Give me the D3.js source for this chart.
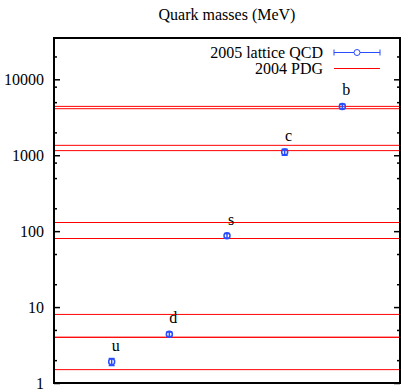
<!DOCTYPE html>
<html>
<head>
<meta charset="utf-8">
<script src="https://cdn.jsdelivr.net/npm/d3@7"></script>
<style>
  body { margin: 0; background: #fff; }
  svg text { font-family: "Liberation Serif", "Times New Roman", serif; fill: #000; }
</style>
</head>
<body>
<div class="canvas"></div>
<script>
const WIDTH = 414;
const HEIGHT = 392;
const margin = { top: 38, right: 14, bottom: 9, left: 54 };
const graphWidth = WIDTH - margin.left - margin.right;
const graphHeight = HEIGHT - margin.top - margin.bottom;
const fontSize = 16;

// data
const quarks = ['u', 'd', 's', 'c', 'b'];
const latticeMass = [1.9, 4.4, 87, 1100, 4400];
const latticeErr = [0.2, 0.3, 6, 100, 300];
const pdgLow = [1.5, 4, 80, 1150, 4100];
const pdgHigh = [4, 8, 130, 1350, 4400];
const yTicks = [1, 10, 100, 1000, 10000];
const yMinorTicks = [2, 5, 20, 50, 200, 500, 800, 2000, 5000, 8000, 20000];

// colors
const blue = '#2a4dff';
const red = '#ff0000';

const svg = d3.select('.canvas')
  .append('svg')
    .attr('width', WIDTH)
    .attr('height', HEIGHT);

svg.append('text')
  .attr('x', margin.left + graphWidth / 2)
  .attr('y', 20)
  .attr('text-anchor', 'middle')
  .attr('font-size', fontSize)
  .text('Quark masses (MeV)');

const graph = svg.append('g')
  .attr('transform', `translate(${margin.left}, ${margin.top})`);

// scales
const x = d3.scaleLinear()
  .domain([0, quarks.length + 1])
  .range([0, graphWidth]);

const y = d3.scaleLog()
  .domain([1, 35000])
  .range([graphHeight, 0]);

// PDG ranges
const pdgLines = pdgLow.concat(pdgHigh);
graph.selectAll('line.pdg')
  .data(pdgLines)
  .enter().append('line')
    .attr('class', 'pdg')
    .attr('x1', 0)
    .attr('x2', graphWidth)
    .attr('y1', d => y(d))
    .attr('y2', d => y(d))
    .attr('stroke', red)
    .attr('stroke-width', 1);

// axes
const yAxisLeft = d3.axisLeft(y)
  .tickValues(yTicks)
  .tickSize(-6)
  .tickPadding(10)
  .tickFormat(d3.format('d'));

const yAxisLeftMinor = d3.axisLeft(y)
  .tickValues(yMinorTicks)
  .tickSize(-3)
  .tickFormat('');

const yAxisRight = d3.axisRight(y)
  .tickValues(yTicks)
  .tickSize(-6)
  .tickFormat('');

const yAxisRightMinor = d3.axisRight(y)
  .tickValues(yMinorTicks)
  .tickSize(-3)
  .tickFormat('');

const leftGroup = graph.append('g').call(yAxisLeft);
graph.append('g').call(yAxisLeftMinor);
graph.append('g').attr('transform', `translate(${graphWidth}, 0)`).call(yAxisRight);
graph.append('g').attr('transform', `translate(${graphWidth}, 0)`).call(yAxisRightMinor);

graph.selectAll('.domain').remove();
graph.selectAll('.tick line').attr('stroke', '#000').attr('stroke-width', 1.5);
leftGroup.selectAll('text')
  .attr('font-size', fontSize)
  .attr('font-family', '"Liberation Serif", serif');

// frame
graph.append('rect')
  .attr('width', graphWidth)
  .attr('height', graphHeight)
  .attr('fill', 'none')
  .attr('stroke', '#000')
  .attr('stroke-width', 2);

// lattice points with error bars
const points = graph.selectAll('g.point')
  .data(quarks)
  .enter().append('g')
    .attr('class', 'point');

points.append('line')
  .attr('x1', (d, i) => x(i + 1))
  .attr('x2', (d, i) => x(i + 1))
  .attr('y1', (d, i) => y(latticeMass[i] - latticeErr[i]))
  .attr('y2', (d, i) => y(latticeMass[i] + latticeErr[i]))
  .attr('stroke', blue)
  .attr('stroke-width', 1.5);

[-1, 1].forEach(s => {
  points.append('line')
    .attr('x1', (d, i) => x(i + 1) - 3)
    .attr('x2', (d, i) => x(i + 1) + 3)
    .attr('y1', (d, i) => y(latticeMass[i] + s * latticeErr[i]))
    .attr('y2', (d, i) => y(latticeMass[i] + s * latticeErr[i]))
    .attr('stroke', blue)
    .attr('stroke-width', 1.5);
});

points.append('circle')
  .attr('cx', (d, i) => x(i + 1))
  .attr('cy', (d, i) => y(latticeMass[i]))
  .attr('r', 3)
  .attr('fill', 'none')
  .attr('stroke', blue)
  .attr('stroke-width', 1.5);

points.append('text')
  .attr('x', (d, i) => x(i + 1) + 4)
  .attr('y', (d, i) => y(latticeMass[i]) - 11)
  .attr('text-anchor', 'middle')
  .attr('font-size', fontSize)
  .text(d => d);

// legend
const legend = svg.append('g');
const lx1 = 334, lx2 = 380, ly1 = 52.5, ly2 = 68.5;

legend.append('text')
  .attr('x', 323).attr('y', 57.5)
  .attr('text-anchor', 'end')
  .attr('font-size', fontSize)
  .text('2005 lattice QCD');

legend.append('line')
  .attr('x1', lx1).attr('x2', lx2)
  .attr('y1', ly1).attr('y2', ly1)
  .attr('stroke', blue);

[lx1, lx2].forEach(cx => {
  legend.append('line')
    .attr('x1', cx).attr('x2', cx)
    .attr('y1', ly1 - 3).attr('y2', ly1 + 3)
    .attr('stroke', blue);
});

legend.append('circle')
  .attr('cx', (lx1 + lx2) / 2).attr('cy', ly1)
  .attr('r', 3)
  .attr('fill', '#fff')
  .attr('stroke', blue);

legend.append('text')
  .attr('x', 323).attr('y', 74)
  .attr('text-anchor', 'end')
  .attr('font-size', fontSize)
  .text('2004 PDG');

legend.append('line')
  .attr('x1', lx1).attr('x2', lx2)
  .attr('y1', ly2).attr('y2', ly2)
  .attr('stroke', red);
</script>
</body>
</html>
